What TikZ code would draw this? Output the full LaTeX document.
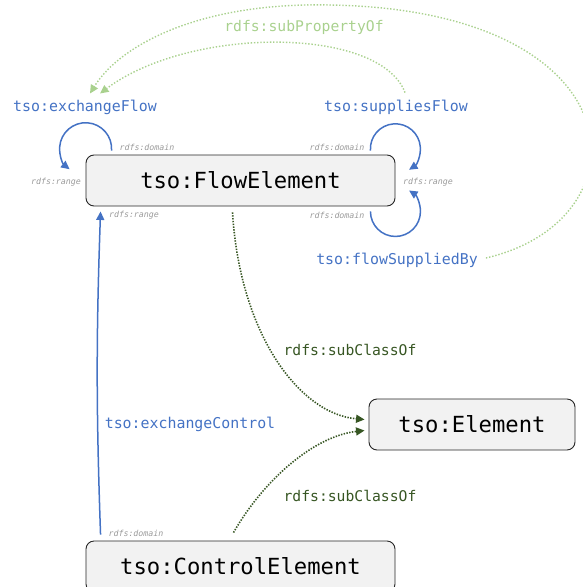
\documentclass[tikz,border=0pt]{standalone}
\usepackage{fontspec}
\setmonofont{DejaVu Sans Mono}
\usetikzlibrary{arrows.meta,calc}
\definecolor{propblue}{HTML}{4472C4}
\definecolor{subgreen}{HTML}{375623}
\definecolor{propgreen}{HTML}{A9D18E}
\definecolor{boxfill}{HTML}{F2F2F2}
\definecolor{notegray}{HTML}{9A9A9A}
\tikzset{
  cls/.style={draw=black!85, line width=0.9pt, fill=boxfill, rounded corners=8pt,
    minimum width=309pt, minimum height=51pt, inner sep=0pt,
    font=\ttfamily\fontsize{22.2}{24}\selectfont},
  proplabel/.style={text=propblue, inner sep=1pt, font=\ttfamily\fontsize{14.9}{16}\selectfont},
  sclabel/.style={text=subgreen, inner sep=1pt, font=\ttfamily\fontsize{14.7}{16}\selectfont},
  splabel/.style={text=propgreen, inner sep=1pt, font=\ttfamily\fontsize{14.7}{16}\selectfont},
  note/.style={text=notegray, inner sep=0pt, font=\ttfamily\itshape\fontsize{8.3}{9}\selectfont},
  tip/.style={-{Triangle[length=8.5pt,width=8pt]}},
  proparc/.style={draw=propblue, line width=1.5pt, tip},
  subcls/.style={draw=subgreen, line width=1.6pt, dash pattern=on 1.4pt off 1.4pt, tip},
  subprop/.style={draw=propgreen, line width=1.4pt, dash pattern=on 1.4pt off 1.8pt, tip},
}
\begin{document}
\begin{tikzpicture}[x=1pt,y=1pt]
\useasboundingbox (0,0) rectangle (583,-587);
\begin{scope}
\clip (0,0) rectangle (583,-587);

% classes
\node[cls] (fe) at (240.5,-180.5) {tso:FlowElement};
\node[cls, minimum width=206pt] (el) at (472,-424.5) {tso:Element};
\node[cls] (ce) at (240.5,-566.5) {tso:ControlElement};

% property names
\node[proplabel] (exf) at (85,-107) {tso:exchangeFlow};
\node[proplabel] (spf) at (396,-107) {tso:suppliesFlow};
\node[proplabel] (fsb) at (397,-260) {tso:flowSuppliedBy};
\node[proplabel] (exc) at (190,-424) {tso:exchangeControl};

% subclass / subproperty labels
\node[sclabel] (sc1) at (350,-350) {rdfs:subClassOf};
\node[sclabel] (sc2) at (350,-496) {rdfs:subClassOf};
\node[splabel] (sp) at (304,-27) {rdfs:subPropertyOf};

% domain / range notes
\node[note] (n1) at (147,-147) {rdfs:domain};
\node[note] (n2) at (56,-182) {rdfs:range};
\node[note] (n3) at (134,-215) {rdfs:range};
\node[note] (n4) at (337,-147) {rdfs:domain};
\node[note] (n5) at (428,-182) {rdfs:range};
\node[note] (n6) at (337,-215) {rdfs:domain};
\node[note] (n7) at (136,-533) {rdfs:domain};

% self loops on tso:FlowElement
\draw[proparc] ($(fe.north west)+(26,4)$) arc[start angle=-4, end angle=232, radius=26];
\draw[proparc] ($(fe.north east)+(-25,4)$) arc[start angle=184, end angle=-57, radius=25];
\draw[proparc] ($(fe.south east)+(-25,-5)$) arc[start angle=180, end angle=417, radius=25];

% exchangeControl
\draw[proparc] ($(ce.north west)+(15,6)$) to[bend left=2] ($(fe.south west)+(15,-5)$);

% subclass links
\draw[subcls] ($(fe.south)+(-8,-6)$) .. controls (240,-335) and (300,-414) .. ($(el.west)+(-4,5)$);
\draw[subcls] ($(ce.north)+(-7,8)$) .. controls (265,-478) and (315,-436) .. ($(el.west)+(-4,-6)$);

% subproperty links
\draw[subprop] ($(fsb.east)+(7,2)$) .. controls (650,-220) and (640,-10) .. (330,-5)
  .. controls (200,-2) and (120,-45) .. ($(exf.north)+(5,5)$);
\draw[subprop] ($(spf.north)+(9,6)$) .. controls (380,-26) and (190,-26) .. ($(exf.north)+(15,5)$);
\end{scope}
\end{tikzpicture}
\end{document}
